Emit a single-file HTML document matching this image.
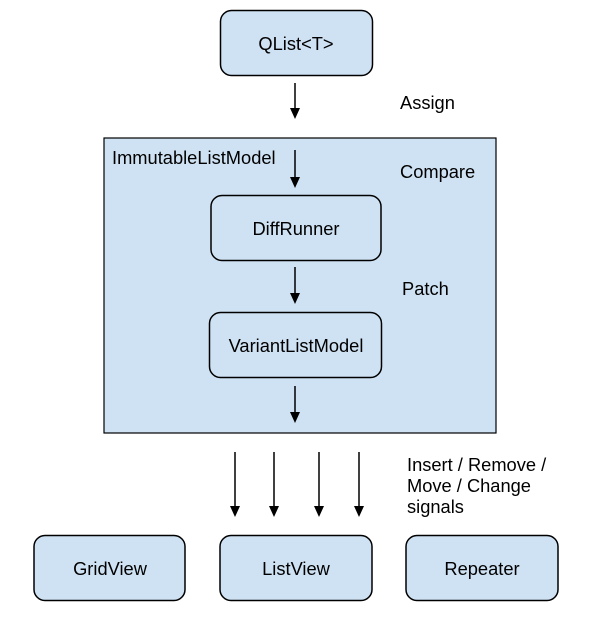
<!DOCTYPE html>
<html><head><style>body{margin:0;background:#fff}</style></head><body>
<svg width="600" height="625" xmlns="http://www.w3.org/2000/svg" font-family="Liberation Sans, Arial, sans-serif" font-size="18.3" fill="#000">
<g stroke="#000" stroke-width="1.5" fill="#cfe2f3">
<rect x="220.5" y="10.5" width="152" height="65" rx="11"/>
<rect x="104" y="138" width="392" height="295" rx="0" stroke-width="1.2"/>
<rect x="211" y="195.5" width="170" height="65" rx="11"/>
<rect x="209.5" y="312.5" width="172" height="65" rx="11"/>
<rect x="34" y="535.5" width="151" height="65" rx="11"/>
<rect x="220" y="535.5" width="152" height="65" rx="11"/>
<rect x="406" y="535.5" width="152" height="65" rx="11"/>
</g>
<g stroke="#000" stroke-width="1.5">
<line x1="295" y1="83" x2="295" y2="110"/>
<line x1="295" y1="150" x2="295" y2="179"/>
<line x1="295" y1="267" x2="295" y2="295"/>
<line x1="295" y1="386" x2="295" y2="414"/>
<line x1="235" y1="452" x2="235" y2="508"/>
<line x1="274" y1="452" x2="274" y2="508"/>
<line x1="319" y1="452" x2="319" y2="508"/>
<line x1="359" y1="452" x2="359" y2="508"/>
</g>
<g>
<path d="M290,108 L300,108 L295,119 z"/>
<path d="M290,177 L300,177 L295,188 z"/>
<path d="M290,293 L300,293 L295,304 z"/>
<path d="M290,412 L300,412 L295,423 z"/>
<path d="M230,506 L240,506 L235,517 z"/>
<path d="M269,506 L279,506 L274,517 z"/>
<path d="M314,506 L324,506 L319,517 z"/>
<path d="M354,506 L364,506 L359,517 z"/>
</g>
<g text-anchor="middle">
<text x="296" y="50">QList&lt;T&gt;</text>
<text x="296" y="235">DiffRunner</text>
<text x="296" y="352">VariantListModel</text>
<text x="110" y="575">GridView</text>
<text x="296" y="575">ListView</text>
<text x="482" y="575">Repeater</text>
</g>
<text x="400" y="109">Assign</text>
<text x="112" y="164">ImmutableListModel</text>
<text x="400" y="178">Compare</text>
<text x="402" y="295">Patch</text>
<text x="407" y="471">Insert / Remove /</text>
<text x="407" y="492">Move / Change</text>
<text x="407" y="513">signals</text>
</svg>
</body></html>
